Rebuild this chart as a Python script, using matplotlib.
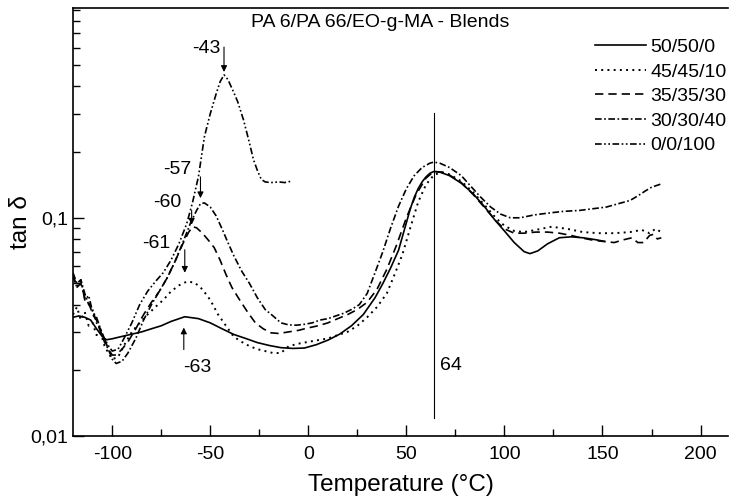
import matplotlib
matplotlib.use("Agg")
import matplotlib.pyplot as plt
from matplotlib.ticker import FixedLocator, FuncFormatter

plt.rcParams['font.family'] = ['Liberation Sans', 'DejaVu Sans']
plt.rcParams['axes.unicode_minus'] = False

# 50/50/0
t_5050 = [-120, -117, -114, -111, -108, -105, -103, -100, -95, -90, -85, -80, -75, -70, -63,
          -56, -50, -44, -38, -32, -26, -20, -14, -8, -2, 4, 10, 16, 22, 28, 34, 38, 42, 46,
          50, 52, 54, 56, 58, 60, 62, 64, 67, 72, 78, 84, 90, 95, 100, 105, 110, 113, 117,
          122, 128, 134, 140, 146, 151]
v_5050 = [0.035, 0.0355, 0.035, 0.034, 0.031, 0.0285, 0.0276, 0.0279, 0.0286, 0.0293, 0.030,
          0.031, 0.032, 0.0335, 0.0352, 0.0345, 0.033, 0.031, 0.0292, 0.028, 0.0268, 0.026,
          0.0254, 0.0252, 0.0253, 0.0262, 0.0275, 0.0293, 0.032, 0.036, 0.043, 0.05, 0.059,
          0.071, 0.095, 0.11, 0.124, 0.136, 0.146, 0.154, 0.16, 0.163, 0.162, 0.156, 0.144,
          0.129, 0.112, 0.098, 0.087, 0.077, 0.070, 0.0685, 0.0705, 0.076, 0.081, 0.0818,
          0.081, 0.0795, 0.078]

# 45/45/10
t_4545 = [-120, -118, -116, -114, -112, -110, -108, -106, -104, -102, -100, -97, -94, -90,
          -86, -82, -78, -74, -70, -66, -62, -58, -54, -50, -46, -42, -38, -34, -30, -26,
          -22, -18, -14, -10, -5, 0, 5, 10, 15, 20, 25, 30, 35, 40, 44, 48, 52, 56, 60, 64,
          68, 72, 78, 84, 90, 96, 100, 105, 110, 116, 124, 132, 140, 148, 156, 164, 170,
          174, 177, 180]
v_4545 = [0.036, 0.039, 0.034, 0.037, 0.032, 0.033, 0.029, 0.030, 0.026, 0.024, 0.0225,
          0.023, 0.026, 0.030, 0.033, 0.036, 0.039, 0.042, 0.046, 0.049, 0.051, 0.0505,
          0.047, 0.042, 0.036, 0.032, 0.0285, 0.027, 0.0258, 0.025, 0.0245, 0.024, 0.024,
          0.0258, 0.0265, 0.027, 0.0275, 0.028, 0.029, 0.030, 0.032, 0.035, 0.039, 0.045,
          0.055, 0.068, 0.09, 0.118, 0.142, 0.157, 0.162, 0.158, 0.147, 0.131, 0.114, 0.099,
          0.092, 0.087, 0.086, 0.088, 0.091, 0.089, 0.086, 0.085, 0.085, 0.086, 0.088,
          0.085, 0.089, 0.086]

# 35/35/30
t_3535 = [-120, -118, -116, -114, -112, -110, -108, -106, -104, -102, -100, -98, -95, -92,
          -88, -84, -80, -76, -72, -68, -64, -61, -59, -57, -54, -51, -48, -45, -42, -39,
          -35, -31, -27, -23, -19, -15, -10, -5, 0, 5, 10, 15, 20, 25, 30, 35, 40, 45, 50,
          55, 60, 64, 68, 72, 78, 84, 90, 96, 100, 105, 110, 116, 122, 128, 134, 139, 145,
          150, 156, 160, 165, 168, 171, 174, 176, 178, 180]
v_3535 = [0.055, 0.048, 0.050, 0.043, 0.041, 0.036, 0.034, 0.030, 0.028, 0.025, 0.0235,
          0.0235, 0.025, 0.027, 0.031, 0.036, 0.041, 0.046, 0.053, 0.063, 0.076, 0.086,
          0.091, 0.09, 0.085, 0.079, 0.073, 0.064, 0.055, 0.048, 0.042, 0.037, 0.033, 0.031,
          0.0297, 0.0295, 0.030, 0.0305, 0.0313, 0.032, 0.033, 0.0345, 0.036, 0.038, 0.041,
          0.047, 0.058, 0.075, 0.100, 0.128, 0.152, 0.163, 0.162, 0.157, 0.145, 0.128,
          0.111, 0.096, 0.089, 0.085, 0.085, 0.086, 0.086, 0.085, 0.083, 0.081, 0.079,
          0.078, 0.077, 0.079, 0.081, 0.077, 0.077, 0.083, 0.084, 0.080, 0.081]

# 30/30/40
t_3030 = [-120, -118, -116, -114, -112, -110, -108, -106, -104, -102, -100, -98, -95, -92,
          -88, -84, -80, -76, -72, -68, -64, -60, -57, -55, -53, -50, -47, -44, -41, -38,
          -34, -30, -26, -22, -18, -14, -10, -6, -2, 2, 6, 10, 14, 18, 22, 26, 30, 34, 38,
          42, 46, 50, 54, 58, 62, 64, 67, 72, 78, 83, 88, 93, 98, 103, 108, 115, 122, 130,
          138, 145, 152, 158, 164, 168, 172, 175, 178, 180]
v_3030 = [0.056, 0.050, 0.052, 0.045, 0.040, 0.038, 0.033, 0.031, 0.027, 0.025, 0.0225,
          0.0215, 0.022, 0.024, 0.028, 0.034, 0.040, 0.046, 0.053, 0.063, 0.077, 0.095,
          0.108, 0.116, 0.117, 0.112, 0.102, 0.089, 0.077, 0.067, 0.057, 0.050, 0.043,
          0.038, 0.0355, 0.033, 0.0323, 0.0322, 0.0325, 0.033, 0.034, 0.0345, 0.0355,
          0.0365, 0.038, 0.040, 0.045, 0.056, 0.070, 0.090, 0.113, 0.136, 0.156, 0.170,
          0.178, 0.180, 0.178, 0.170, 0.156, 0.139, 0.124, 0.112, 0.104, 0.100, 0.100,
          0.103, 0.105, 0.107, 0.108, 0.110, 0.112, 0.116, 0.120, 0.126, 0.133, 0.138,
          0.141, 0.143]

# 0/0/100
t_0100 = [-120, -118, -116, -114, -112, -110, -108, -106, -104, -102, -100, -97, -94, -90,
          -86, -82, -78, -74, -70, -66, -62, -59, -56, -53, -50, -47, -45, -43, -41, -38,
          -36, -33, -30, -28, -26, -24, -22, -19, -15, -12, -9]
v_0100 = [0.054, 0.048, 0.052, 0.042, 0.044, 0.037, 0.035, 0.031, 0.028, 0.026, 0.0245,
          0.025, 0.028, 0.033, 0.040, 0.046, 0.051, 0.056, 0.064, 0.076, 0.094, 0.118,
          0.155, 0.235, 0.30, 0.37, 0.42, 0.452, 0.43, 0.375, 0.34, 0.28, 0.22, 0.185,
          0.165, 0.150, 0.146, 0.145, 0.146, 0.145, 0.147]

labels = ['50/50/0', '45/45/10', '35/35/30', '30/30/40', '0/0/100']

fig = plt.figure(figsize=(7.29, 5.01), dpi=100)
ax = fig.add_axes([73 / 729, 65 / 501, 655 / 729, 428 / 501])

lw = 1.2
ax.plot(t_5050, v_5050, color='k', lw=lw, ls='-', label=labels[0])
ax.plot(t_4545, v_4545, color='k', lw=lw + 0.2, ls=(0, (1, 2.2)), label=labels[1])
ax.plot(t_3535, v_3535, color='k', lw=lw, ls=(0, (5, 3)), label=labels[2])
ax.plot(t_3030, v_3030, color='k', lw=lw, ls=(0, (4, 1.5, 1, 1.5)), label=labels[3])
ax.plot(t_0100, v_0100, color='k', lw=lw, ls=(0, (4, 1.5, 1, 1.5, 1, 1.5)), label=labels[4])

ax.set_yscale('log')
ax.set_xlim(-120, 214)
ax.set_ylim(0.01, 0.915)

ax.set_xticks([-100, -50, 0, 50, 100, 150, 200])
ax.set_xticks([-75, -25, 25, 75, 125, 175], minor=True)
ax.yaxis.set_major_locator(FixedLocator([0.01, 0.1]))
ax.yaxis.set_minor_locator(FixedLocator([k * 0.01 for k in range(2, 10)] +
                                        [k * 0.1 for k in range(2, 10)]))
ax.yaxis.set_major_formatter(FuncFormatter(lambda v, p: '0,01' if v < 0.05 else '0,1'))
ax.yaxis.set_minor_formatter(FuncFormatter(lambda v, p: ''))
ax.tick_params(which='both', direction='in', labelsize=14, width=1)
ax.tick_params(axis='x', pad=7)
ax.tick_params(which='major', length=8)
ax.tick_params(which='minor', length=5)
ax.spines['right'].set_visible(False)
for s in ['left', 'bottom', 'top']:
    ax.spines[s].set_linewidth(1.2)

ax.set_xlabel('Temperature (°C)', fontsize=17.5, labelpad=8)
ax.set_ylabel('tan δ', fontsize=17.5)
ax.yaxis.set_label_coords(-0.063, 0.5)

ax.text(0.469, 0.967, 'PA 6/PA 66/EO-g-MA - Blends', transform=ax.transAxes,
        ha='center', va='center', fontsize=14)

# vertical marker at the main transition
ax.plot([64, 64], [0.0121, 0.303], color='k', lw=0.8)
ax.text(67, 0.021, '64', fontsize=14, ha='left', va='center')

fs = 14
arr = dict(arrowstyle='-|>', color='k', lw=0.8, mutation_scale=9, shrinkA=0, shrinkB=0)
ax.annotate('', xy=(-43, 0.466), xytext=(-43, 0.606), arrowprops=arr)
ax.text(-51.8, 0.594, '-43', fontsize=fs, ha='center', va='center')
ax.annotate('', xy=(-55, 0.123), xytext=(-55, 0.154), arrowprops=arr)
ax.text(-67, 0.166, '-57', fontsize=fs, ha='center', va='center')
ax.annotate('', xy=(-59.5, 0.093), xytext=(-59.5, 0.108), arrowprops=arr)
ax.text(-71.7, 0.117, '-60', fontsize=fs, ha='center', va='center')
ax.annotate('', xy=(-63, 0.056), xytext=(-63, 0.0714), arrowprops=arr)
ax.text(-77.3, 0.076, '-61', fontsize=fs, ha='center', va='center')
ax.annotate('', xy=(-63.5, 0.0314), xytext=(-63.5, 0.0249), arrowprops=arr)
ax.text(-56.7, 0.0206, '-63', fontsize=fs, ha='center', va='center')

ax.legend(loc='upper left', bbox_to_anchor=(0.797, 0.929), frameon=False, fontsize=14,
          handlelength=2.63, handletextpad=0.2, labelspacing=0.36, borderpad=0,
          borderaxespad=0)

fig.savefig('out.png', dpi=100)
